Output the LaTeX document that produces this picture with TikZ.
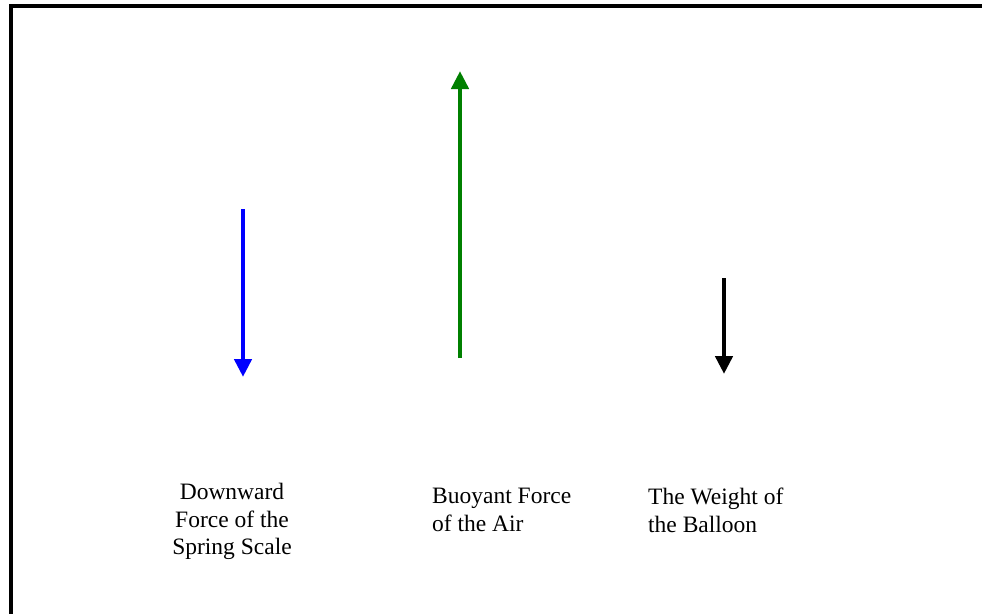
\documentclass[tikz,border=0pt]{standalone}
\usepackage{fontspec}
\setmainfont{Liberation Serif}
\usetikzlibrary{arrows.meta}
\definecolor{fgreen}{RGB}{0,128,0}
\tikzset{
  force/.style={line width=4.8pt,-{Triangle[length=18pt,width=17pt]}},
  lbl/.style={inner sep=0pt,font=\fontsize{23.5}{27.5}\selectfont},
  frame/.style={line width=4.5pt}
}
\begin{document}
\begin{tikzpicture}[x=1pt,y=-1pt]
\useasboundingbox (0,0) rectangle (982,613);
\fill[white] (0,0) rectangle (982,613);
% frame
\coordinate (fb) at (11,615);
\coordinate (fc) at (11,6);
\coordinate (fr) at (984,6);
\draw[frame] (fb) -- (fc) -- (fr);
% arrows
\coordinate (b1) at (243,209);
\coordinate (b2) at (243,377);
\draw[force,blue] (b1) -- (b2);
\coordinate (g1) at (460,358);
\coordinate (g2) at (460,71);
\draw[force,fgreen] (g1) -- (g2);
\coordinate (k1) at (724,278);
\coordinate (k2) at (724,374);
\draw[force,black] (k1) -- (k2);
% labels
\node[lbl,anchor=north,align=center] (l1) at (232,483) {Downward\\Force of the\\Spring Scale};
\node[lbl,anchor=north west,align=left] (l2) at (432,488) {Buoyant Force\\of the Air};
\node[lbl,anchor=north west,align=left] (l3) at (648,488) {The Weight of\\the Balloon};
\end{tikzpicture}
\end{document}
